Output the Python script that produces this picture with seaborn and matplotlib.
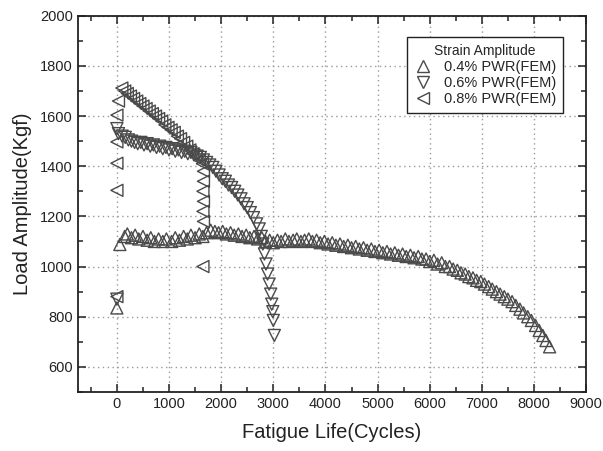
import numpy as np
import pandas as pd
import matplotlib
matplotlib.use("Agg")
import matplotlib.pyplot as plt
from matplotlib.lines import Line2D
from matplotlib.ticker import MultipleLocator
import seaborn as sns

# 0.4% PWR(FEM)
cyc_04 = [0, 57, 150, 200, 280, 350, 420, 500, 580, 650, 720, 800, 880, 950, 1050, 1120,
          1200, 1280, 1350, 1420, 1500, 1580, 1650, 1720, 1800, 1880, 1950, 2030, 2100,
          2180, 2250, 2330, 2400, 2480, 2550, 2630, 2700, 2780, 2850, 2930, 3000, 3080,
          3150, 3230, 3300, 3380, 3450, 3530, 3600, 3680, 3750, 3830, 3900, 3980, 4050,
          4130, 4200, 4280, 4350, 4430, 4500, 4580, 4650, 4730, 4800, 4880, 4950, 5030,
          5100, 5180, 5250, 5330, 5400, 5480, 5550, 5630, 5700, 5780, 5850, 5930, 6000,
          6080, 6150, 6230, 6300, 6380, 6450, 6530, 6600, 6680, 6750, 6830, 6900, 6980,
          7050, 7130, 7200, 7280, 7350, 7430, 7500, 7580, 7650, 7730, 7800, 7880, 7950,
          8030, 8100, 8170, 8230, 8300]
load_04 = [835, 1088, 1120, 1130, 1115, 1125, 1110, 1120, 1105, 1115, 1100, 1110, 1100, 1110,
           1100, 1115, 1105, 1120, 1110, 1125, 1115, 1130, 1120, 1135, 1145, 1140, 1135,
           1140, 1130, 1135, 1125, 1130, 1120, 1125, 1115, 1120, 1110, 1115, 1100, 1105,
           1095, 1105, 1100, 1110, 1100, 1105, 1110, 1100, 1105, 1110, 1100, 1105, 1095,
           1100, 1090, 1095, 1085, 1090, 1080, 1085, 1075, 1080, 1070, 1075, 1065, 1070,
           1060, 1065, 1055, 1060, 1050, 1055, 1045, 1050, 1040, 1045, 1035, 1040, 1030,
           1030, 1020, 1025, 1010, 1015, 1000, 1000, 990, 985, 975, 970, 960, 955, 945,
           940, 930, 920, 910, 900, 890, 880, 870, 860, 845, 830, 815, 800, 785, 765, 745,
           725, 705, 680]

# 0.6% PWR(FEM)
cyc_06 = [0, 0, 30, 100, 160, 220, 280, 340, 400, 460, 520, 580, 640, 700, 760, 820, 880,
          940, 1000, 1060, 1120, 1180, 1240, 1300, 1360, 1420, 1480, 1540, 1600, 1660, 1720,
          1780, 1840, 1900, 1960, 2020, 2080, 2140, 2200, 2260, 2320, 2380, 2440, 2500,
          2560, 2620, 2680, 2730, 2770, 2800, 2830, 2860, 2890, 2920, 2950, 2970, 2990,
          3000, 3020]
load_06 = [870, 1550, 1530, 1520, 1515, 1505, 1500, 1495, 1490, 1495, 1485, 1490, 1480, 1485,
           1475, 1480, 1470, 1475, 1465, 1470, 1460, 1465, 1455, 1460, 1450, 1455, 1445,
           1440, 1435, 1425, 1415, 1405, 1395, 1380, 1365, 1350, 1340, 1325, 1315, 1300,
           1285, 1270, 1250, 1235, 1215, 1195, 1170, 1150, 1120, 1090, 1050, 1010, 970, 930,
           890, 850, 820, 785, 725]

# 0.8% PWR(FEM)
cyc_08 = [0, 0, 0, 0, 0, 30, 95, 150, 200, 260, 320, 380, 440, 500, 560, 620, 680, 740, 800,
          860, 920, 980, 1040, 1100, 1160, 1220, 1280, 1340, 1400, 1460, 1520, 1580, 1640,
          1660, 1660, 1650, 1660, 1650, 1660, 1650]
load_08 = [880, 1304, 1412, 1497, 1604, 1660, 1712, 1700, 1690, 1680, 1670, 1660, 1650, 1640,
           1630, 1620, 1610, 1600, 1590, 1580, 1565, 1555, 1545, 1535, 1520, 1510, 1495,
           1480, 1465, 1450, 1440, 1425, 1410, 1380, 1340, 1300, 1260, 1220, 1180, 1000]

labels = ["0.4% PWR(FEM)", "0.6% PWR(FEM)", "0.8% PWR(FEM)"]
marks = ["^", "v", "<"]

df = pd.concat([
    pd.DataFrame({"cycles": cyc_04, "load": load_04, "series": labels[0]}),
    pd.DataFrame({"cycles": cyc_06, "load": load_06, "series": labels[1]}),
    pd.DataFrame({"cycles": cyc_08, "load": load_08, "series": labels[2]}),
])

sns.set_style("ticks")
plt.rcParams["font.family"] = ["Liberation Sans", "DejaVu Sans"]

fig = plt.figure(figsize=(6.03, 4.51), dpi=100)
ax = fig.add_axes([0.129, 0.131, 0.843, 0.834])

edge = "#4a4a4a"
sns.scatterplot(data=df, x="cycles", y="load", style="series", markers=dict(zip(labels, marks)),
                facecolors="none", edgecolor=edge, linewidth=1.0, s=75, legend=False, ax=ax)
for coll in ax.collections:
    coll.set_facecolor("none")
    coll.set_edgecolor(edge)

ax.set_xlim(-750, 9000)
ax.set_ylim(500, 2000)
ax.xaxis.set_minor_locator(MultipleLocator(500))
ax.yaxis.set_major_locator(MultipleLocator(200))
ax.yaxis.set_minor_locator(MultipleLocator(100))
ax.set_xticks(range(0, 9001, 1000))
ax.grid(True, which="major", linestyle=(0, (1, 2.5)), color="#999999", linewidth=1)
ax.tick_params(which="both", direction="in", top=True, right=True, colors="#222222",
               labelsize=10.5)
ax.tick_params(which="major", length=6, width=1.1)
ax.tick_params(which="minor", length=3.5, width=1.1)
for sp in ax.spines.values():
    sp.set_color("#222222")
    sp.set_linewidth(1.3)

ax.set_xlabel("Fatigue Life(Cycles)", fontsize=14.5, color="#222222", labelpad=9)
ax.set_ylabel("Load Amplitude(Kgf)", fontsize=14.5, color="#222222", labelpad=6)

handles = [Line2D([], [], marker=m, linestyle="none", markerfacecolor="none",
                  markeredgecolor=edge, markersize=8) for m in marks]
leg = ax.legend(handles, labels, title="Strain Amplitude", loc="upper right",
                bbox_to_anchor=(0.968, 0.963), fontsize=10.5, title_fontsize=10,
                fancybox=False, edgecolor="#222222", framealpha=1,
                handletextpad=0.8, labelspacing=0.15, borderpad=0.45, handlelength=1.3)
leg.get_frame().set_linewidth(1.0)

fig.savefig("out.png", dpi=100)
